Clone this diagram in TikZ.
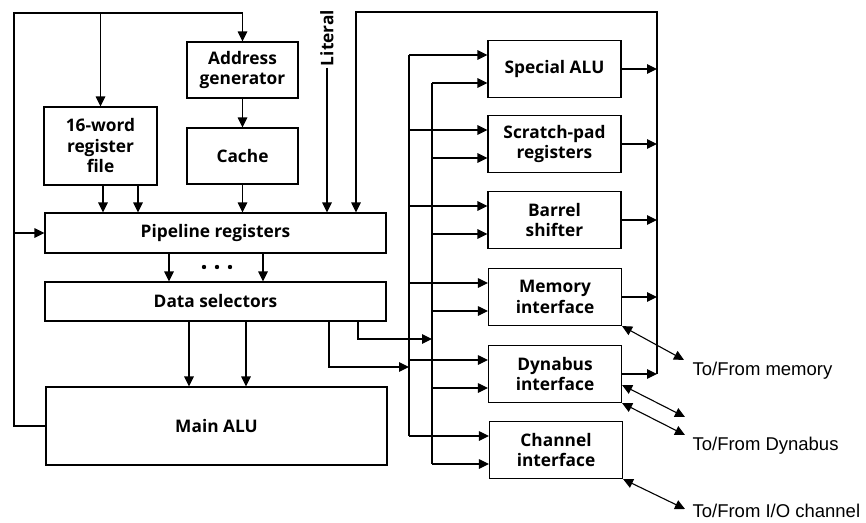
\documentclass[tikz,border=0pt]{standalone}
\usepackage{fontspec}
\setmainfont{Open Sans}
\newfontfamily\labelfont{Liberation Sans}
\usetikzlibrary{arrows.meta}
\begin{document}
\begin{tikzpicture}[x=1pt,y=-1pt,
  line width=1.1pt,
  >={Triangle[length=10pt,width=9.5pt]},
  blk/.style={draw, align=center, inner sep=0pt,
    font=\bfseries\fontsize{17.3}{20.5}\selectfont},
  rblk/.style={blk, minimum width=133pt, minimum height=57pt},
  io/.style={anchor=base west, inner sep=0pt, font=\labelfont\fontsize{18.5}{20}\selectfont},
]
\useasboundingbox (0,0) rectangle (866,522);

% left column
\node[blk, minimum width=113pt, minimum height=78pt] (regf) at (100.5,146) {16-word\\register\\file};
\node[blk, minimum width=111pt, minimum height=56pt] (addr) at (242.5,70) {Address\\generator};
\node[blk, minimum width=111pt, minimum height=56pt] (cache) at (242.5,156) {Cache};
\node[blk, minimum width=341pt, minimum height=40pt] (pipe) at (215.5,233) {Pipeline registers};
\node[blk, minimum width=341pt, minimum height=39pt] (dsel) at (215.5,301.5) {Data selectors};
\node[blk, minimum width=341pt, minimum height=78pt] (alu) at (216.5,426) {Main ALU};
\node[rotate=90, inner sep=1pt, font=\bfseries\fontsize{17.3}{20}\selectfont] (lit) at (327,38) {Literal};

% right column
\node[rblk] (salu) at (554.5,69) {Special ALU};
\node[rblk] (spad) at (554.5,144) {Scratch-pad\\registers};
\node[rblk] (bsh) at (554.5,220) {Barrel\\shifter};
\node[rblk] (mem) at (555,297) {Memory\\interface};
\node[rblk] (dyn) at (555,374) {Dynabus\\interface};
\node[rblk] (chan) at (556,450) {Channel\\interface};

% routing points
\coordinate (tl) at (14,13);
\coordinate (rb) at (657,12);
\coordinate (fb) at (356,12);
\coordinate (ob) at (409,0);
\coordinate (ib) at (432,0);

% feedback from the main ALU
\draw[->] (alu.west) -| (tl) -| (addr.north);
\draw[->] (regf.north |- tl) -- (regf.north);
\draw[->] (tl |- pipe.west) -- (pipe.west);

% into the pipeline registers
\draw[->] ([xshift=2.5pt]regf.south) -- ([xshift=2.5pt]regf.south |- pipe.north);
\draw[->] ([xshift=37.5pt]regf.south) -- ([xshift=37.5pt]regf.south |- pipe.north);
\draw[->] (addr) -- (cache);
\draw[->] (cache) -- (cache |- pipe.north);
\draw[->] (lit.west) -- (lit.west |- pipe.north);
\draw[->] (rb |- dyn.east) -- (rb) -- (fb) -- (fb |- pipe.north);

% pipeline -> selectors -> main ALU
\draw[->] ([xshift=-46.5pt]pipe.south) -- ([xshift=-46.5pt]pipe.south |- dsel.north);
\draw[->] ([xshift=47.5pt]pipe.south) -- ([xshift=47.5pt]pipe.south |- dsel.north);
\foreach \dx in {204,217,230} { \fill (\dx,267) circle (2.2pt); }
\draw[->] ([xshift=-26.5pt]dsel.south) -- ([xshift=-26.5pt]dsel.south |- alu.north);
\draw[->] ([xshift=30.5pt]dsel.south) -- ([xshift=30.5pt]dsel.south |- alu.north);

% selectors -> right-hand buses
\draw[->] ([xshift=142.5pt]dsel.south) |- (ib |- 0,339);
\draw[->] ([xshift=113.5pt]dsel.south) |- (ob |- 0,367);

% buses
\draw ([yshift=14pt]salu.west -| ob) -- ([yshift=14pt]chan.west -| ob);
\draw ([yshift=-14pt]salu.west -| ib) -- ([yshift=-14pt]chan.west -| ib);
\foreach \b in {salu,spad,bsh,mem,dyn,chan} {
  \draw[->] ([yshift=14pt]\b.west -| ob) -- ([yshift=14pt]\b.west);
  \draw[->] ([yshift=-14pt]\b.west -| ib) -- ([yshift=-14pt]\b.west);
}
\foreach \b in {salu,spad,bsh,mem,dyn} {
  \draw[->] (\b.east) -- (\b.east -| rb);
}

% external links
\coordinate (memio) at (684,360);
\coordinate (dynio1) at (685,417);
\coordinate (dynio2) at (685,435);
\coordinate (chanio) at (685,509);
\draw[<->] (mem.south east) -- (memio);
\draw[<->] ([yshift=-11pt]dyn.east) -- (dynio1);
\draw[<->] (dyn.south east) -- (dynio2);
\draw[<->] (chan.south east) -- (chanio);
\node[io] (lmem) at (692,375) {To/From memory};
\node[io] (ldyn) at (692,450) {To/From Dynabus};
\node[io] (lchan) at (692,517) {To/From I/O channel};
\end{tikzpicture}
\end{document}
